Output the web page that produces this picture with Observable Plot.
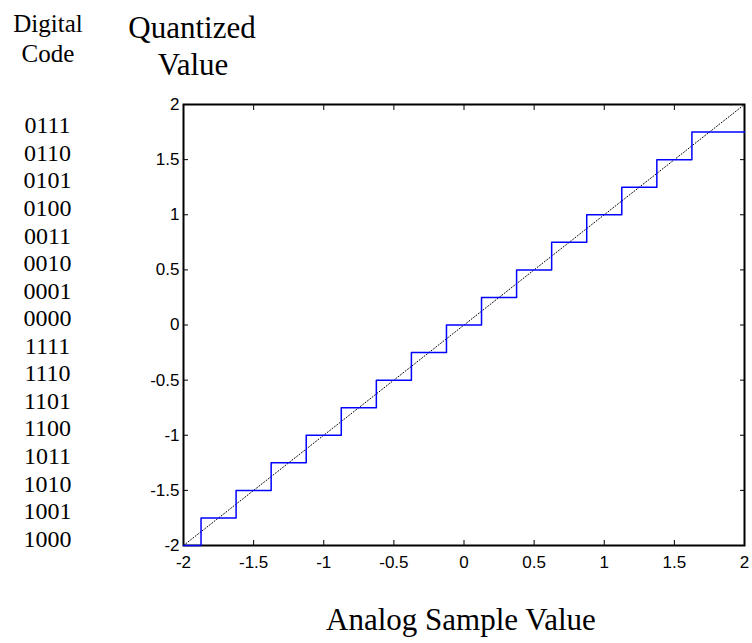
<!DOCTYPE html>
<html><head><meta charset="utf-8">
<script src="https://cdn.jsdelivr.net/npm/d3@7"></script>
<script src="https://cdn.jsdelivr.net/npm/@observablehq/plot@0.6"></script>
<style>body{margin:0;background:#fff}</style>
</head><body><div id="chart"></div>
<script>
const xTicks = [-2, -1.5, -1, -0.5, 0, 0.5, 1, 1.5, 2];
const yTicks = [-2, -1.5, -1, -0.5, 0, 0.5, 1, 1.5, 2];
const analogEdges = [-2, -1.875, -1.625, -1.375, -1.125, -0.875, -0.625, -0.375, -0.125, 0.125, 0.375, 0.625, 0.875, 1.125, 1.375, 1.625, 2];
const quantized   = [-2, -1.75, -1.5, -1.25, -1, -0.75, -0.5, -0.25, 0, 0.25, 0.5, 0.75, 1, 1.25, 1.5, 1.75, 1.75];
const codes = ["0111","0110","0101","0100","0011","0010","0001","0000","1111","1110","1101","1100","1011","1010","1001","1000"];
const codeLevels = [1.75, 1.5, 1.25, 1, 0.75, 0.5, 0.25, 0, -0.25, -0.5, -0.75, -1, -1.25, -1.5, -1.75, -2];
const diagonalX = [-2, 2];
const diagonalY = [-2, 2];

const stairs = analogEdges.map((x, i) => ({x, y: quantized[i]}));
const diag = diagonalX.map((x, i) => ({x, y: diagonalY[i]}));
const codeRows = codes.map((c, i) => ({code: c, level: codeLevels[i]}));

const serif = "'Liberation Serif', 'Times New Roman', serif";
const sans = "'Liberation Sans', Arial, Helvetica, sans-serif";

const svg = Plot.plot({
  width: 752, height: 643,
  marginTop: 104, marginLeft: 183, marginRight: 8, marginBottom: 98,
  x: {domain: [-2, 2]},
  y: {domain: [-2, 2]},
  style: {fontFamily: sans, fontSize: "16px", color: "black", background: "white", overflow: "visible"},
  marks: [
    Plot.axisX(xTicks, {anchor: "bottom", tickSize: -5, tickFormat: () => "", label: null}),
    Plot.axisX(xTicks, {anchor: "top", tickSize: -5, tickFormat: () => "", label: null}),
    Plot.axisY(yTicks, {anchor: "left", tickSize: -5, tickFormat: () => "", label: null}),
    Plot.axisY(yTicks, {anchor: "right", tickSize: -5, tickFormat: () => "", label: null}),
    Plot.axisX(xTicks, {anchor: "bottom", tickSize: 0, tickPadding: 10, tickFormat: d => String(d), label: null}),
    Plot.axisY(yTicks, {anchor: "left", tickSize: 0, tickPadding: 4, tickFormat: d => String(d), label: null}),
    Plot.frame({stroke: "black", strokeWidth: 2}),
    Plot.line(diag, {x: "x", y: "y", stroke: "black", strokeWidth: 1, strokeDasharray: "1,2"}),
    Plot.line(stairs, {x: "x", y: "y", curve: "step-after", stroke: "#0000ff", strokeWidth: 1.5}),
    Plot.text(codeRows, {y: "level", text: "code", frameAnchor: "left", dx: -136, dy: -6.5, textAnchor: "middle", fontFamily: serif, fontSize: 24})
  ]
});

const s = d3.select(svg);
s.selectAll('g[aria-label$="tick label"]').attr("font-size", 17).attr("font-family", sans);
const labels = [
  {t: "Digital", x: 48, y: 32, size: 25},
  {t: "Code", x: 48, y: 62, size: 25},
  {t: "Quantized", x: 192, y: 38, size: 31},
  {t: "Value", x: 193, y: 75, size: 31},
  {t: "Analog Sample Value", x: 461, y: 630, size: 31}
];
for (const l of labels) {
  s.append("text").attr("x", l.x).attr("y", l.y).attr("text-anchor", "middle")
    .attr("font-family", serif).attr("font-size", l.size).attr("fill", "black").text(l.t);
}
document.getElementById("chart").appendChild(svg);
</script>
</body></html>
